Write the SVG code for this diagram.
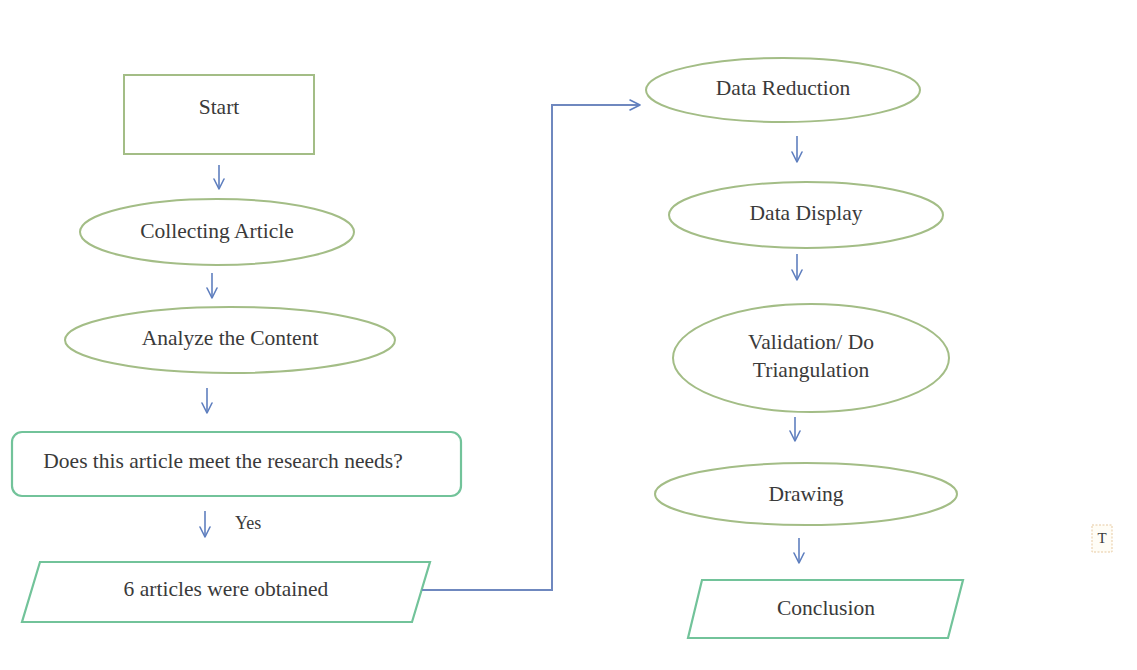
<svg xmlns="http://www.w3.org/2000/svg" width="1137" height="670" viewBox="0 0 1137 670">
  <defs>
    <marker id="open-arrow" viewBox="0 0 12 12" refX="11" refY="6" markerWidth="12" markerHeight="12" markerUnits="userSpaceOnUse" orient="auto">
      <polyline points="1,1 11,6 1,11" fill="none" stroke="#5f7fbf" stroke-width="1.6" stroke-linecap="round" stroke-linejoin="round"/>
    </marker>
  </defs>
  <style>
    .bg { fill: #ffffff; }
    .olive { fill: #ffffff; stroke: #a3bd86; stroke-width: 2; }
    .teal { fill: #ffffff; stroke: #72c39a; stroke-width: 2.2; }
    .label { font-family: "Liberation Serif", "Times New Roman", serif; font-size: 21.5px; fill: #3a3a3a; text-anchor: middle; dominant-baseline: central; }
    .small { font-size: 18px; text-anchor: start; }
    .flow { fill: none; stroke: #5f7fbf; stroke-width: 1.6; marker-end: url(#open-arrow); }
    .link { fill: none; stroke: #6f88bf; stroke-width: 2; }
  </style>

  <rect class="bg" x="0" y="0" width="1137" height="670"/>

  <!-- left column -->
  <g id="start">
    <rect class="olive" x="124" y="75" width="190" height="79"/>
    <text class="label" x="219" y="107">Start</text>
  </g>
  <g id="collecting-article">
    <ellipse class="olive" cx="217" cy="232" rx="137" ry="33"/>
    <text class="label" x="217" y="231">Collecting Article</text>
  </g>
  <g id="analyze-content">
    <ellipse class="olive" cx="230" cy="340" rx="165" ry="33"/>
    <text class="label" x="230" y="338">Analyze the Content</text>
  </g>
  <g id="research-needs">
    <rect class="teal" x="12" y="432" width="449" height="64" rx="10" ry="10"/>
    <text class="label" x="223" y="461">Does this article meet the research needs?</text>
  </g>
  <g id="articles-obtained">
    <polygon class="teal" points="40,562 430,562 412,622 22,622"/>
    <text class="label" x="226" y="589">6 articles were obtained</text>
  </g>

  <!-- right column -->
  <g id="data-reduction">
    <ellipse class="olive" cx="783" cy="90" rx="137" ry="32"/>
    <text class="label" x="783" y="88">Data Reduction</text>
  </g>
  <g id="data-display">
    <ellipse class="olive" cx="806" cy="215" rx="137" ry="33"/>
    <text class="label" x="806" y="213">Data Display</text>
  </g>
  <g id="validation">
    <ellipse class="olive" cx="811" cy="358" rx="138" ry="54"/>
    <text class="label" x="811" y="342">Validation/ Do</text>
    <text class="label" x="811" y="370">Triangulation</text>
  </g>
  <g id="drawing">
    <ellipse class="olive" cx="806" cy="494" rx="151" ry="31"/>
    <text class="label" x="806" y="494">Drawing</text>
  </g>
  <g id="conclusion">
    <polygon class="teal" points="702,580 963,580 948,638 688,638"/>
    <text class="label" x="826" y="608">Conclusion</text>
  </g>

  <!-- small text-frame marker at right edge -->
  <g id="text-mark">
    <rect x="1092" y="525" width="20" height="27" fill="#fffdf6" stroke="#e7c9a0" stroke-width="1" stroke-dasharray="2,1.5"/>
    <text class="label" x="1102" y="538" style="font-size:15px">T</text>
  </g>

  <g id="connectors">
    <line class="flow" x1="219" y1="165" x2="219" y2="189"/>
    <line class="flow" x1="212" y1="273" x2="212" y2="298"/>
    <line class="flow" x1="207" y1="388" x2="207" y2="413"/>
    <line class="flow" x1="205" y1="511" x2="205" y2="537"/>
    <text class="label small" x="235" y="523">Yes</text>
    <line class="flow" x1="797" y1="136" x2="797" y2="162"/>
    <line class="flow" x1="797" y1="254" x2="797" y2="280"/>
    <line class="flow" x1="795" y1="417" x2="795" y2="441"/>
    <line class="flow" x1="799" y1="538" x2="799" y2="563"/>
    <polyline class="link" points="422,590 552,590 552,105"/>
    <line class="flow" x1="551" y1="105" x2="640" y2="105" style="stroke:#6f88bf;stroke-width:2"/>
  </g>
</svg>
